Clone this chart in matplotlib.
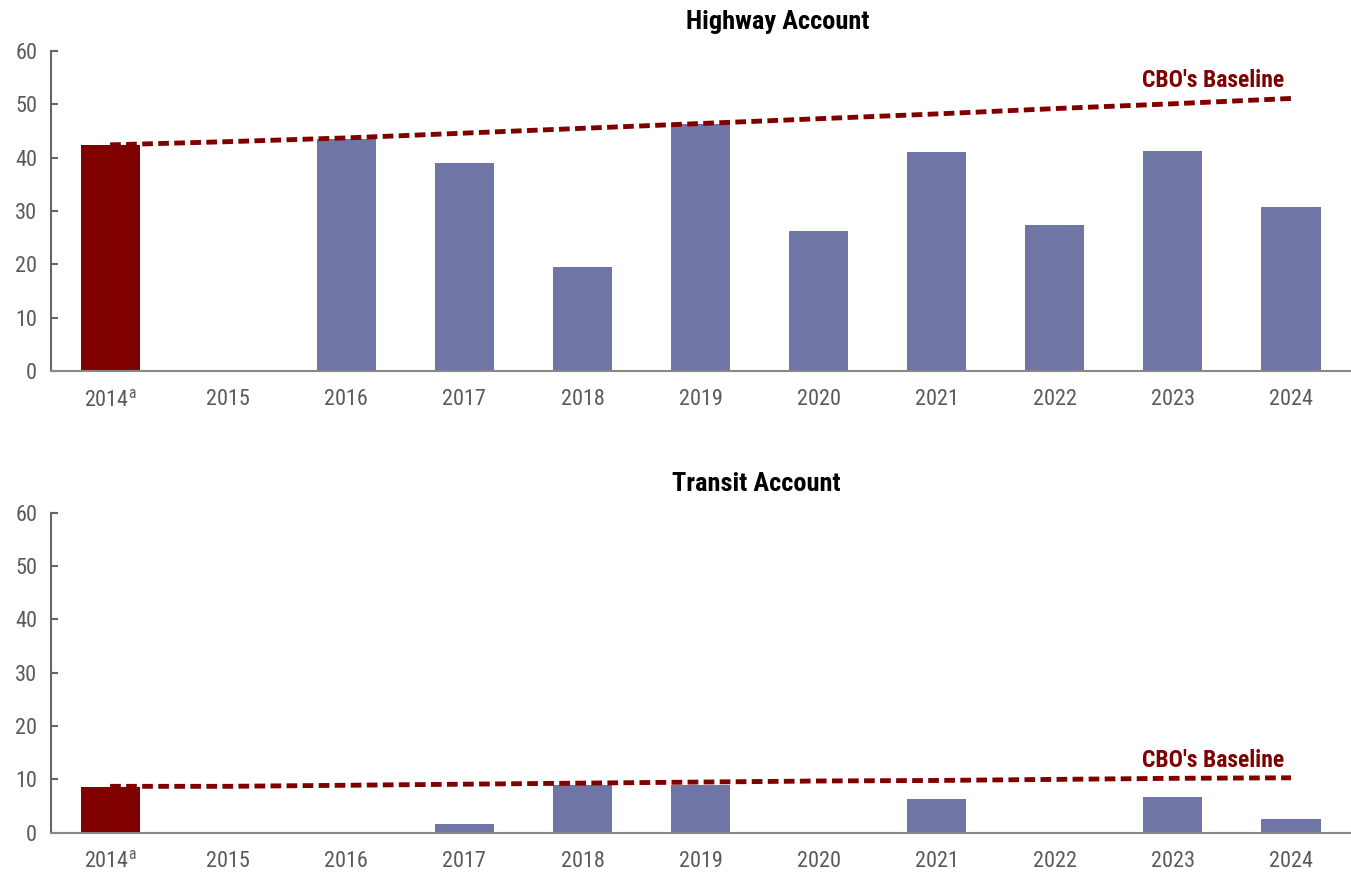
import numpy as np
import matplotlib
matplotlib.use("Agg")
import matplotlib.pyplot as plt

plt.rcParams['font.family'] = ['Roboto Condensed', 'DejaVu Sans']
plt.rcParams['mathtext.fontset'] = 'custom'
plt.rcParams['mathtext.rm'] = 'Roboto Condensed'

# data (billions of dollars)
years = ['2014$^{\\mathrm{a}}$', '2015', '2016', '2017', '2018', '2019',
         '2020', '2021', '2022', '2023', '2024']
highway_vals = [42.3, 0, 43.5, 39.0, 19.5, 46.3, 26.3, 41.1, 27.4, 41.3, 30.8]
highway_base = [42.4, 43.0, 43.7, 44.6, 45.5, 46.4, 47.3, 48.2, 49.2, 50.1, 51.1]
transit_vals = [8.6, 0, 0, 1.6, 8.9, 9.0, 0, 6.3, 0, 6.7, 2.6]
transit_base = [8.7, 8.7, 8.9, 9.1, 9.3, 9.5, 9.7, 9.8, 10.0, 10.2, 10.3]

panels = [
    ('Highway Account', highway_vals, highway_base, [0.0378, 0.5765, 0.9615, 0.3653], 0.559, 53.2),
    ('Transit Account', transit_vals, transit_base, [0.0378, 0.0494, 0.9615, 0.3653], 0.543, 12.4),
]

red = '#800000'
blue = '#6f76a6'
gray = '#5a5a5a'

fig = plt.figure(figsize=(13.51, 8.76), dpi=100)

for title, vals, base, pos, tx, ly in panels:
    ax = fig.add_axes(pos)
    x = np.arange(len(years))
    colors = [red] + [blue] * (len(years) - 1)
    ax.bar(x, vals, width=0.5, color=colors, zorder=2)
    ax.plot(x, base, color=red, lw=3.5, linestyle=(0, (2.2, 1.1)),
            dash_capstyle='butt', zorder=3)
    ax.text(9.94, ly, "CBO's Baseline", color=red, fontsize=17,
            fontweight='bold', ha='right', va='baseline')
    ax.text(tx, 1.068, title, transform=ax.transAxes, fontsize=19,
            fontweight='bold', ha='center', va='baseline', color='black')

    ax.set_xlim(-0.5, 10.5)
    ax.set_ylim(0, 60)
    ax.set_yticks(np.arange(0, 61, 10))
    ax.set_xticks(x)
    ax.set_xticklabels(years)
    for s in ['top', 'right']:
        ax.spines[s].set_visible(False)
    ax.spines['left'].set_color('#666666')
    ax.spines['left'].set_linewidth(1.5)
    ax.spines['bottom'].set_color('#888888')
    ax.spines['bottom'].set_linewidth(1.5)
    ax.tick_params(axis='y', direction='in', length=5, width=1.5,
                   color='#666666', labelsize=16, labelcolor=gray, pad=10)
    ax.tick_params(axis='x', length=0, labelsize=16, labelcolor=gray, pad=13)

fig.savefig('out.png', dpi=100)
